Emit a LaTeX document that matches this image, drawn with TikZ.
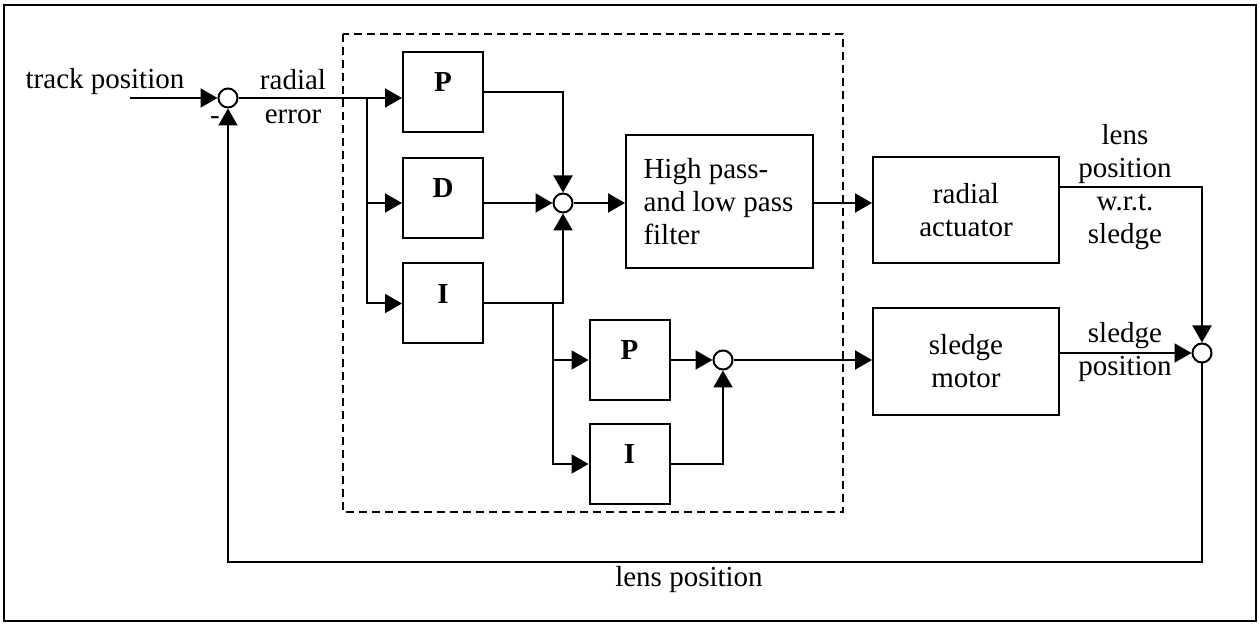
\documentclass[tikz,border=0pt]{standalone}
\usepackage{fontspec}
\setmainfont{Liberation Serif}
\usepackage{tikz}
\usetikzlibrary{positioning,arrows.meta}

\begin{document}
\begin{tikzpicture}[
      x=0.5pt, y=-0.5pt,
      font=\fontsize{14.5}{16.5}\selectfont,
      line width=1pt,
      blk/.style={draw, line width=1pt, minimum width=40pt, minimum height=40pt, inner sep=0pt},
      gain/.style={blk, font=\fontsize{14.5}{16.5}\selectfont\bfseries, text height=10pt, text depth=10pt},
      sum/.style={draw, circle, line width=1pt, minimum size=9.5pt, inner sep=0pt},
      lab/.style={align=center, inner sep=0pt},
      arr/.style={-{Triangle[length=8.5pt,width=9.5pt]}}
    ]
    % ---- frame and controller boundary ----
    \useasboundingbox (0,0) rectangle (1260,624);
    \draw[line width=0.8pt] (4,5) rectangle (1256,621);
    \draw[dashed, dash pattern=on 4pt off 2.5pt] (343,34) rectangle (843,512);

    % ---- summing points ----
    \node[sum] (sum1) at (228,98) {};
    \node[sum] (sum2) at (563,203) {};
    \node[sum] (sum3) at (723,360) {};
    \node[sum] (sum4) at (1202,353) {};

    % ---- blocks ----
    \node[gain] (p1) at (443,92) {P};
    \node[gain] (d1) at (443,198) {D};
    \node[gain] (i1) at (443,303.5) {I};
    \node[gain] (p2) at (629.5,360) {P};
    \node[gain] (i2) at (629.5,464) {I};
    \node[blk, minimum width=93.5pt, minimum height=66.5pt, align=flush left, text width=76pt,
          font=\fontsize{14.5}{16.5}\selectfont] (filt) at (719.5,201.5)
      {High pass-\\and low pass\\filter};
    \node[blk, minimum width=93pt, minimum height=53pt, align=center] (act) at (966,210)
      {radial\\actuator};
    \node[blk, minimum width=93pt, minimum height=53.5pt, align=center] (mot) at (966,361.5)
      {sledge\\motor};

    % ---- signal labels ----
    \node[lab] (track) at (105,82) {track position};
    \node[lab] (err) at (293,97) {radial\\[0.5pt]error};
    \node[lab] (minus) at (215,121) {-};
    \node[lab] (wrt) at (1125,187) {lens\\position\\w.r.t.\\sledge};
    \node[lab] (slpos) at (1125,352) {sledge\\position};
    \node[lab] (lens) at (689,580) {lens position};

    % ---- forward path ----
    \coordinate (tin) at (130,98);
    \coordinate (br1) at (367,98);
    \coordinate (br2) at (553,303.5);
    \coordinate (fb) at (700,562);
    \draw[arr] (tin) -- (sum1);
    \draw[arr] (sum1) -- (sum1 -| p1.west);
    \draw[arr] (br1) |- (sum2 -| d1.west);
    \draw[arr] (br1) |- (i1.west);
    \draw[arr] (p1.east) -| (sum2.north);
    \draw[arr] (sum2 -| d1.east) -- (sum2);
    \draw[arr] (i1.east) -| (sum2.south);
    \draw[arr] (sum2) -- (sum2 -| filt.west);
    \draw[arr] (sum2 -| filt.east) -- (sum2 -| act.west);

    % ---- sledge branch ----
    \draw[arr] (br2) |- (p2.west);
    \draw[arr] (br2) |- (i2.west);
    \draw[arr] (p2.east) -- (sum3);
    \draw[arr] (i2.east) -| (sum3.south);
    \draw[arr] (sum3) -- (sum3 -| mot.west);

    % ---- outputs and feedback ----
    \draw[arr] (act.east |- wrt) -| (sum4.north);
    \draw[arr] (sum4 -| mot.east) -- (sum4);
    \draw[arr] (sum4.south) |- (fb) -| (sum1.south);
  \end{tikzpicture}
\end{document}
